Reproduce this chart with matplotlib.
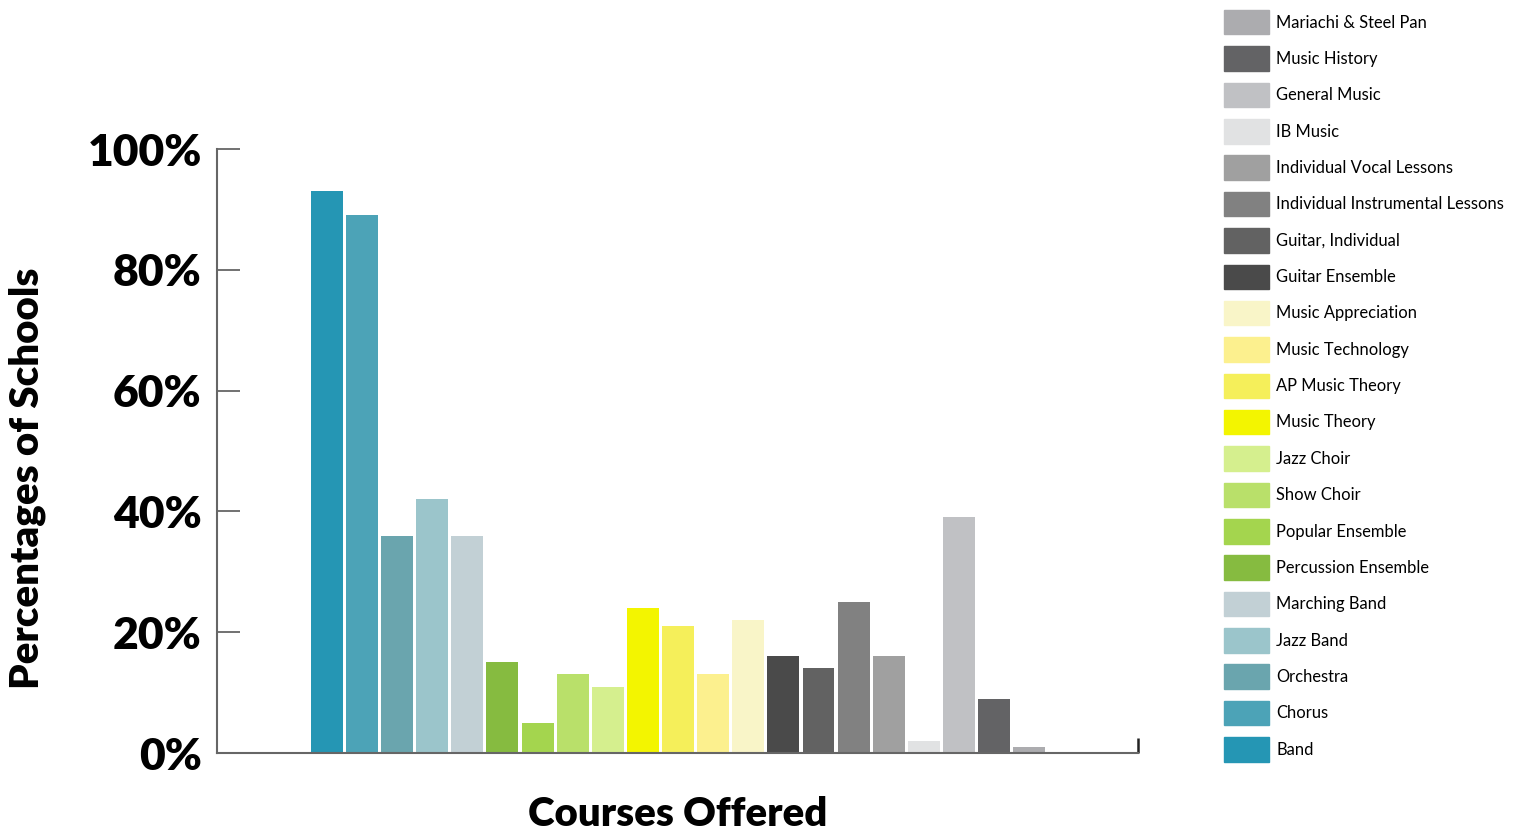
import matplotlib.pyplot as plt
from matplotlib.patches import Patch

courses = ['Band', 'Chorus', 'Orchestra', 'Jazz Band', 'Marching Band',
           'Percussion Ensemble', 'Popular Ensemble', 'Show Choir', 'Jazz Choir',
           'Music Theory', 'AP Music Theory', 'Music Technology', 'Music Appreciation',
           'Guitar Ensemble', 'Guitar, Individual', 'Individual Instrumental Lessons',
           'Individual Vocal Lessons', 'IB Music', 'General Music', 'Music History',
           'Mariachi & Steel Pan']
percent = [93, 89, 36, 42, 36, 15, 5, 13, 11, 24, 21, 13, 22, 16, 14, 25, 16, 2, 39, 9, 1]
colors = ['#2596b4', '#4ca3b7', '#6aa5ae', '#9bc5cb', '#c2d0d5',
          '#86bb40', '#a4d54e', '#b9e06a', '#d5ef8e',
          '#f3f500', '#f5ef5a', '#fcf08e', '#f9f5c8',
          '#4a4a4a', '#626262', '#818181', '#a0a0a0', '#e1e2e3', '#c0c1c4',
          '#636365', '#acacaf']

W, H = 1524, 834
fig = plt.figure(figsize=(W / 100, H / 100), dpi=100)
ax = fig.add_axes([217 / W, 1 - 753 / H, (1138 - 217) / W, (753 - 149) / H])

x = range(len(courses))
ax.bar(x, percent, width=0.91, color=colors)

xmax = 23.1
ax.set_xlim(-3.13, xmax)
ax.set_ylim(0, 100)
ax.set_yticks([0, 20, 40, 60, 80, 100])
ax.set_yticklabels([f'{v}%' for v in [0, 20, 40, 60, 80, 100]],
                   fontfamily='Lato', fontweight='heavy', fontsize=32)
ax.tick_params(axis='y', direction='in', length=16.5, width=1.3, color='#666666', pad=11)
ax.set_xticks([xmax])
ax.set_xticklabels([''])
ax.tick_params(axis='x', direction='in', length=11, width=1.8, color='#222222')

for s in ['top', 'right']:
    ax.spines[s].set_visible(False)
for s in ['left', 'bottom']:
    ax.spines[s].set_color('#666666')
    ax.spines[s].set_linewidth(1.5)

fig.text(27 / W, 1 - 478 / H, 'Percentages of Schools', rotation=90, ha='center', va='center',
         fontfamily='Lato', fontweight='heavy', fontsize=29)
fig.text(678 / W, 1 - 815 / H, 'Courses Offered', ha='center', va='center',
         fontfamily='Lato', fontweight='heavy', fontsize=29)

handles = [Patch(color=c, label=n) for n, c in zip(courses, colors)][::-1]
fig.legend(handles=handles, loc='upper left', bbox_to_anchor=(1224 / W, 1 - 10 / H),
           frameon=False, borderpad=0, borderaxespad=0,
           prop={'family': 'Lato', 'size': 11.9},
           handlelength=2.7, handleheight=1.9, labelspacing=0.72, handletextpad=0.45)

fig.savefig('out.png', dpi=100)
